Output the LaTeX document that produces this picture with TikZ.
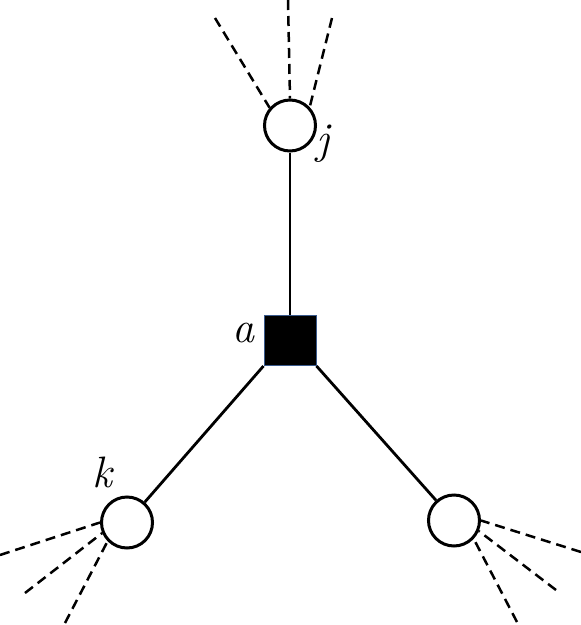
\documentclass[tikz,border=0pt]{standalone}
\usepackage{fontspec}
\setmainfont{Latin Modern Roman}
\definecolor{sqborder}{HTML}{3A5A8C}
\begin{document}
\begin{tikzpicture}[x=1pt,y=-1pt,
  var/.style={circle,draw=black,line width=3pt,fill=white,minimum size=51pt,inner sep=0pt},
  fac/.style={rectangle,draw=sqborder,line width=1pt,fill=black,minimum width=52pt,minimum height=50pt,inner sep=0pt},
  edge/.style={line width=2.8pt,black},
  half/.style={line width=2.5pt,black,dash pattern=on 10pt off 6pt},
  lbl/.style={inner sep=0pt,anchor=base,font=\fontsize{44}{44}\selectfont\itshape}]
\useasboundingbox (0,0) rectangle (581,625);
\node[fac] (a) at (290,340.5) {};
\node[var] (j) at (290,125.5) {};
\node[var] (k) at (127,522.5) {};
\node[var] (r) at (454,520.5) {};
\coordinate (j1) at (215,18);
\coordinate (j2) at (288,0);
\coordinate (j3) at (332,18);
\coordinate (k1) at (0,555);
\coordinate (k2) at (25,593);
\coordinate (k3) at (65,623);
\coordinate (r1) at (581,552);
\coordinate (r2) at (556,590);
\coordinate (r3) at (517,622);
\draw[edge] (j) -- (a);
\draw[edge] (a.south west) -- (k);
\draw[edge] (a.south east) -- (r);
\draw[half] (j1) -- (j.139);
\draw[half] (j2) -- (j.north);
\draw[half] (j3) -- (j.43);
\draw[half] (k1) -- (k.180);
\draw[half] (k2) -- (k.203);
\draw[half] (k3) -- (k.224);
\draw[half] (r1) -- (r.0);
\draw[half] (r2) -- (r.-23);
\draw[half] (r3) -- (r.-43);
\node[lbl] (la) at (243,342) {a};
\node[lbl] (lj) at (323,153) {j};
\node[lbl] (lk) at (102,487) {k};
\end{tikzpicture}
\end{document}
